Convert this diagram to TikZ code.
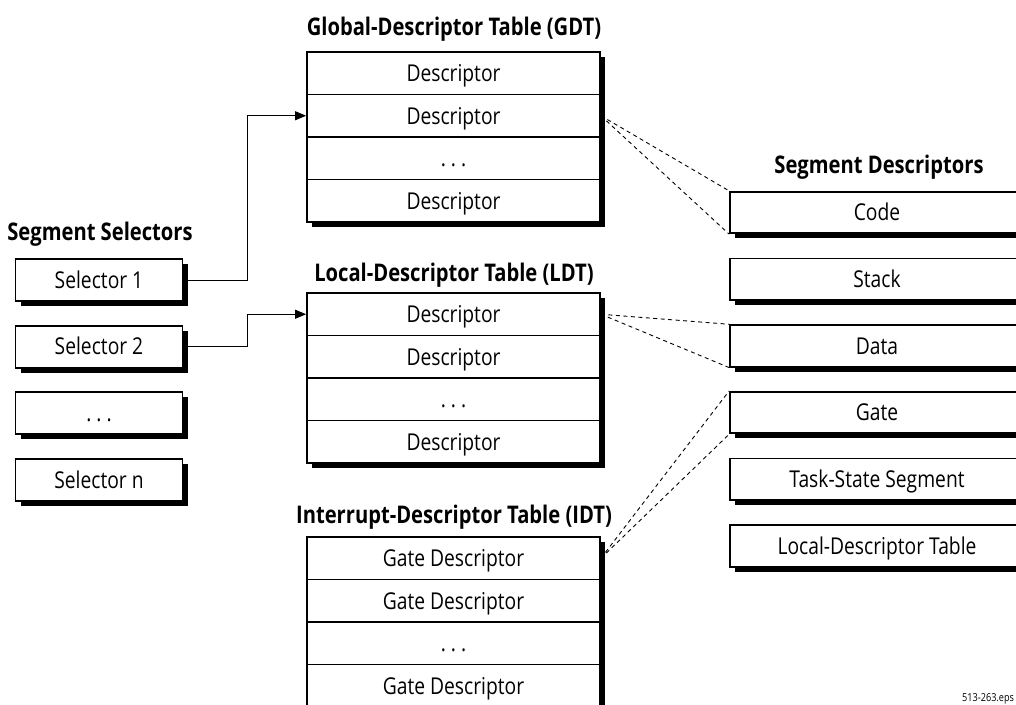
\documentclass[tikz,border=0pt]{standalone}
\usepackage{fontspec}
\setmainfont{Open Sans}[FakeStretch=0.83]
\usetikzlibrary{arrows.meta,shadows,calc}
\tikzset{
  box/.style={draw, line width=1.8pt, fill=white, minimum width=167pt,
    minimum height=42pt, inner sep=0pt, text height=16.5pt, text depth=0pt,
    font=\fontsize{23.2}{27}\selectfont,
    drop shadow={shadow xshift=5pt, shadow yshift=-5pt, fill=black, opacity=1}},
  selbox/.style={box},
  segbox/.style={box, minimum width=294pt, minimum height=41.5pt},
  row/.style={box, minimum width=293pt, minimum height=42.5pt},
  title/.style={anchor=base, inner sep=0pt, font=\fontsize{24.3}{28}\selectfont\bfseries},
  conn/.style={line width=0.9pt, -{Triangle[length=11pt,width=9pt]}},
  dashline/.style={line width=0.9pt, dash pattern=on 4pt off 3.5pt},
}
\begin{document}
\begin{tikzpicture}[x=1pt, y=-1pt]
\useasboundingbox (0,0) rectangle (1016,704);
\clip (0,0) rectangle (1016,704);

% titles
\node[title] (tg) at (454,35) {Global-Descriptor Table (GDT)};
\node[title] (tl) at (454,281) {Local-Descriptor Table (LDT)};
\node[title] (ti) at (454,523) {Interrupt-Descriptor Table (IDT)};
\node[title] (tss) at (100,240) {Segment Selectors};
\node[title] (tsd) at (879,173) {Segment Descriptors};

% selectors
\node[selbox] (s1) at (99,280) {Selector 1};
\node[selbox] (s2) at (99,346.7) {Selector 2};
\node[selbox] (s3) at (99,413.3) {.\ .\ .};
\node[selbox] (s4) at (99,480) {Selector n};

% GDT
\node[row] (g1) at (453.5,73.25) {Descriptor};
\node[row] (g2) at (453.5,115.75) {Descriptor};
\node[row] (g3) at (453.5,158.25) {.\ .\ .};
\node[row] (g4) at (453.5,200.75) {Descriptor};

% LDT
\node[row] (l1) at (453.5,314.25) {Descriptor};
\node[row] (l2) at (453.5,356.75) {Descriptor};
\node[row] (l3) at (453.5,399.25) {.\ .\ .};
\node[row] (l4) at (453.5,441.75) {Descriptor};

% IDT
\node[row] (i1) at (453.5,558.25) {Gate Descriptor};
\node[row] (i2) at (453.5,600.75) {Gate Descriptor};
\node[row] (i3) at (453.5,643.25) {.\ .\ .};
\node[row] (i4) at (453.5,685.75) {Gate Descriptor};

% segment descriptors
\node[segbox] (cd) at (877,212.5) {Code};
\node[segbox] (st) at (877,279.2) {Stack};
\node[segbox] (da) at (877,345.9) {Data};
\node[segbox] (gt) at (877,412.6) {Gate};
\node[segbox] (ts) at (877,479.3) {Task-State Segment};
\node[segbox] (ld) at (877,546) {Local-Descriptor Table};

% connectors
\coordinate (vx) at (247,0);
\draw[conn] (s1.east) -- (s1.east -| vx) |- (g2.west);
\draw[conn] (s2.east) -- (s2.east -| vx) |- (l1.west);

\draw[dashline] (g2.east) -- (cd.north west);
\draw[dashline] (g2.east) -- (cd.south west);
\draw[dashline] (l1.east) -- (da.north west);
\draw[dashline] (l1.east) -- (da.south west);
\draw[dashline] (i1.east) -- (gt.north west);
\draw[dashline] (i1.east) -- (gt.south west);

\node[anchor=base west, inner sep=0pt, font=\fontsize{11}{13}\selectfont] (lbl) at (962,701.5) {513-263.eps};
\end{tikzpicture}
\end{document}
